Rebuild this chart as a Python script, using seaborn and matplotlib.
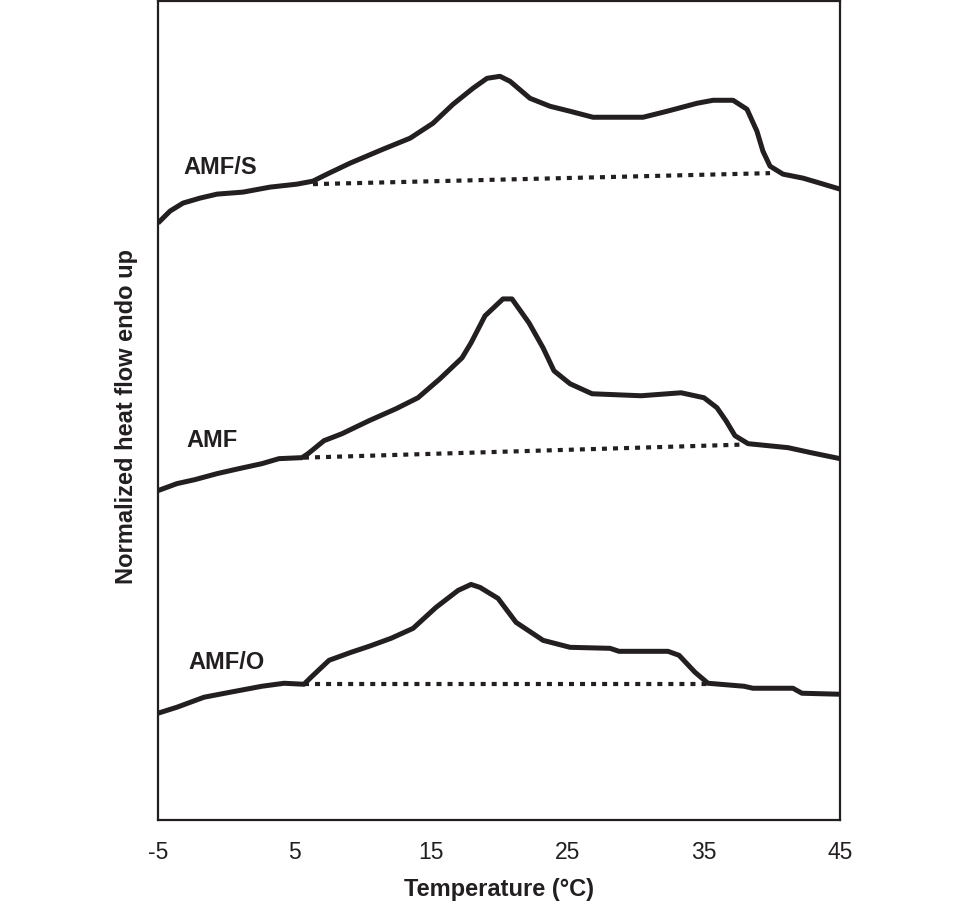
import pandas as pd
import numpy as np
import matplotlib.pyplot as plt
import seaborn as sns

# DSC melting curves, normalized heat flow (arbitrary units, endo up)
amfs_temp = [-5.0, -4.12, -3.17, -1.92, -0.67, 1.23, 3.21, 5.19, 6.36, 7.39, 9.08, 11.50,
             13.48, 15.16, 16.63, 18.09, 19.12, 20.07, 20.81, 22.27, 23.74, 25.21, 26.89,
             30.56, 32.32, 34.52, 35.69, 37.16, 38.18, 38.91, 39.35, 39.87, 40.82, 42.29,
             43.53, 45.0]
amfs_flow = [5.98, 6.10, 6.18, 6.23, 6.27, 6.29, 6.34, 6.37, 6.40, 6.47, 6.58, 6.72,
             6.83, 6.98, 7.17, 7.33, 7.43, 7.45, 7.40, 7.23, 7.15, 7.10, 7.04,
             7.04, 7.10, 7.18, 7.21, 7.21, 7.12, 6.90, 6.70, 6.55, 6.47, 6.43,
             6.38, 6.32]

amf_temp = [-5.0, -3.61, -2.29, -0.67, 0.94, 2.62, 3.87, 5.56, 6.00, 7.17, 8.49, 10.47,
            12.45, 14.06, 15.67, 17.29, 17.95, 18.97, 20.29, 20.95, 22.20, 23.23, 24.03,
            25.21, 26.82, 30.41, 33.35, 35.03, 35.98, 36.64, 37.30, 38.26, 41.19, 42.87,
            45.0]
amf_flow = [3.30, 3.37, 3.41, 3.47, 3.52, 3.57, 3.62, 3.63, 3.67, 3.80, 3.87, 4.00,
            4.12, 4.23, 4.42, 4.63, 4.78, 5.05, 5.22, 5.22, 4.98, 4.73, 4.50,
            4.37, 4.27, 4.25, 4.28, 4.23, 4.13, 4.00, 3.85, 3.77, 3.73, 3.68,
            3.62]

amfo_temp = [-5.0, -3.61, -1.63, 0.28, 2.62, 4.24, 5.70, 6.22, 7.54, 9.15, 10.47, 12.08,
             13.70, 15.38, 17.00, 17.95, 18.61, 19.93, 21.25, 23.23, 25.21, 28.14, 28.80,
             32.39, 33.20, 34.37, 35.32, 37.96, 38.62, 41.55, 42.21, 45.0]
amfo_flow = [1.07, 1.13, 1.23, 1.28, 1.34, 1.37, 1.36, 1.43, 1.60, 1.68, 1.74, 1.82,
             1.92, 2.13, 2.30, 2.36, 2.33, 2.22, 1.98, 1.80, 1.73, 1.72, 1.69,
             1.69, 1.65, 1.48, 1.37, 1.34, 1.32, 1.32, 1.27, 1.26]

# integration baselines (onset / end of melting)
samples = ['AMF/S', 'AMF', 'AMF/O']
base_temp = [[6.36, 39.87], [5.70, 37.67], [5.70, 35.32]]
base_flow = [[6.37, 6.48], [3.63, 3.76], [1.36, 1.36]]
label_pos = [(-3.17, 6.54), (-2.95, 3.80), (-2.80, 1.58)]

xticks = [-5, 5, 15, 25, 35, 45]

sns.set_style('white')
plt.rcParams['font.family'] = ['Liberation Sans', 'DejaVu Sans']
ink = '#231f20'

curves = pd.concat([
    pd.DataFrame({'temp': amfs_temp, 'flow': amfs_flow, 'sample': 'AMF/S'}),
    pd.DataFrame({'temp': amf_temp, 'flow': amf_flow, 'sample': 'AMF'}),
    pd.DataFrame({'temp': amfo_temp, 'flow': amfo_flow, 'sample': 'AMF/O'}),
])

fig = plt.figure(figsize=(9.6, 9.05), dpi=100)
ax = fig.add_axes([0.1646, 0.0939, 0.7104, 0.9045])

sns.lineplot(data=curves, x='temp', y='flow', units='sample', estimator=None, sort=False,
             color=ink, linewidth=3.6, ax=ax, legend=False)
for line in ax.lines:
    line.set_solid_joinstyle('round')
    line.set_solid_capstyle('butt')

for name, bt, bf, (lx, ly) in zip(samples, base_temp, base_flow, label_pos):
    sns.lineplot(x=bt, y=bf, color=ink, linewidth=3.0, linestyle=(0, (1.2, 1.45)),
                 ax=ax, legend=False)
    ax.text(lx, ly, name, fontsize=17, fontweight='bold', color=ink,
            ha='left', va='center')

ax.set_xlim(-5, 45)
ax.set_ylim(0, 8.2)
ax.set_xticks(xticks)
ax.set_xticklabels([str(t) for t in xticks])
ax.set_yticks([])
ax.tick_params(axis='x', direction='out', length=8, width=1.5, color=ink,
               labelsize=16.5, pad=7, labelcolor=ink)
for sp in ax.spines.values():
    sp.set_visible(True)
    sp.set_color(ink)
    sp.set_linewidth(1.6)

ax.set_xlabel('Temperature (°C)', fontsize=17, fontweight='bold', color=ink, labelpad=10)
ax.set_ylabel('Normalized heat flow endo up', fontsize=17, fontweight='bold', color=ink)
ax.yaxis.set_label_coords(-0.03, 0.493)

plt.savefig('out.png', dpi=100)
